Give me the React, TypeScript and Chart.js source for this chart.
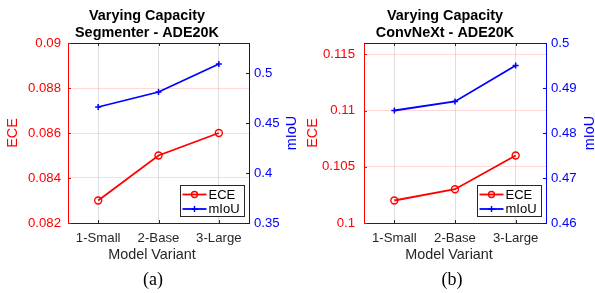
import React, { useEffect, useRef } from 'react';
import { Chart, registerables } from 'chart.js';
Chart.register(...registerables);

const categories = ['1-Small', '2-Base', '3-Large'];
const segEce = [0.083, 0.085, 0.086];
const segMiou = [0.466, 0.481, 0.509];
const convEce = [0.102, 0.103, 0.106];
const convMiou = [0.485, 0.487, 0.495];
const segEceTicks = [0.082, 0.084, 0.086, 0.088, 0.09];
const segMiouTicks = [0.35, 0.4, 0.45, 0.5];
const convEceTicks = [0.1, 0.105, 0.11, 0.115];
const convMiouTicks = [0.46, 0.47, 0.48, 0.49, 0.5];
const segEceRange = [0.082, 0.09];
const segMiouRange = [0.35, 0.53];
const convEceRange = [0.1, 0.116];
const convMiouRange = [0.46, 0.5];
const segTitle = ['Varying Capacity', 'Segmenter - ADE20K'];
const convTitle = ['Varying Capacity', 'ConvNeXt - ADE20K'];
const seriesNames = ['ECE', 'mIoU'];
const xTitle = 'Model Variant';
const captions = ['(a)', '(b)'];

const RED = '#ff0000';
const BLUE = '#0000ff';
const DARK = '#262626';
const SANS = '"Liberation Sans", Arial, sans-serif';
const SERIF = '"Liberation Serif", "Times New Roman", serif';

const fmt = (v: number) => String(Number(Number(v).toFixed(6)));

type Panel = {
  left: number; width: number; leftAxisW: number; rightAxisW: number;
  leftPad: number; rightPad: number;
  titleX: number; captionX: number; yLeftX: number; yRightX: number; xLabelX: number;
};

function decor(p: Panel, title: string[], caption: string) {
  return {
    id: 'decor' + caption,
    afterDraw(chart: any) {
      const ctx = chart.ctx as CanvasRenderingContext2D;
      const a = chart.chartArea;
      const xs = chart.scales.x;
      const y = chart.scales.y;
      const y1 = chart.scales.y1;
      ctx.save();
      // top border
      ctx.strokeStyle = DARK;
      ctx.lineWidth = 1;
      ctx.beginPath();
      ctx.moveTo(a.left, a.top + 0.5);
      ctx.lineTo(a.right, a.top + 0.5);
      ctx.stroke();
      // inward ticks
      const TL = 3;
      ctx.beginPath();
      xs.ticks.forEach((_t: any, i: number) => {
        const px = Math.round(xs.getPixelForTick(i)) + 0.5;
        ctx.moveTo(px, a.bottom); ctx.lineTo(px, a.bottom - TL);
        ctx.moveTo(px, a.top); ctx.lineTo(px, a.top + TL);
      });
      ctx.stroke();
      ctx.strokeStyle = RED;
      ctx.beginPath();
      y.ticks.forEach((t: any) => {
        const py = Math.round(y.getPixelForValue(t.value)) + 0.5;
        ctx.moveTo(a.left, py); ctx.lineTo(a.left + TL, py);
      });
      ctx.stroke();
      ctx.strokeStyle = BLUE;
      ctx.beginPath();
      y1.ticks.forEach((t: any) => {
        const py = Math.round(y1.getPixelForValue(t.value)) + 0.5;
        ctx.moveTo(a.right, py); ctx.lineTo(a.right - TL, py);
      });
      ctx.stroke();

      // titles
      ctx.fillStyle = '#000';
      ctx.textAlign = 'center';
      ctx.textBaseline = 'alphabetic';
      ctx.font = 'bold 14.4px ' + SANS;
      ctx.fillText(title[0], p.titleX, 19.5);
      ctx.fillText(title[1], p.titleX, 37);
      // x title
      ctx.font = '14.4px ' + SANS;
      ctx.fillStyle = DARK;
      ctx.fillText(xTitle, p.xLabelX, 259);
      // caption
      ctx.fillStyle = '#000';
      ctx.font = '18px ' + SERIF;
      ctx.fillText(caption, p.captionX, 285);
      // y titles
      const cy = (a.top + a.bottom) / 2;
      ctx.font = '14.4px ' + SANS;
      ctx.textBaseline = 'middle';
      ctx.save();
      ctx.translate(p.yLeftX, cy);
      ctx.rotate(-Math.PI / 2);
      ctx.fillStyle = RED;
      ctx.fillText(seriesNames[0], 0, 0);
      ctx.restore();
      ctx.save();
      ctx.translate(p.yRightX, cy);
      ctx.rotate(-Math.PI / 2);
      ctx.fillStyle = BLUE;
      ctx.fillText(seriesNames[1], 0, 0);
      ctx.restore();

      // legend
      const bw = 64, bh = 31;
      const bx = Math.round(a.right - 5 - bw) + 0.5;
      const by = Math.round(a.bottom - 7 - bh) + 0.5;
      ctx.fillStyle = '#fff';
      ctx.fillRect(bx, by, bw, bh);
      ctx.strokeStyle = DARK;
      ctx.lineWidth = 1;
      ctx.strokeRect(bx, by, bw, bh);
      const rows = [by + 9, by + 23.5];
      const colors = [RED, BLUE];
      rows.forEach((ry, i) => {
        ctx.strokeStyle = colors[i];
        ctx.lineWidth = 1.8;
        ctx.beginPath();
        ctx.moveTo(bx + 2, ry); ctx.lineTo(bx + 26, ry);
        ctx.stroke();
        ctx.lineWidth = 1.4;
        ctx.beginPath();
        if (i === 0) {
          ctx.arc(bx + 14, ry, 3, 0, Math.PI * 2);
        } else {
          ctx.moveTo(bx + 11, ry); ctx.lineTo(bx + 17, ry);
          ctx.moveTo(bx + 14, ry - 3); ctx.lineTo(bx + 14, ry + 3);
        }
        ctx.stroke();
        ctx.fillStyle = '#000';
        ctx.font = '13px ' + SANS;
        ctx.textAlign = 'left';
        ctx.textBaseline = 'middle';
        ctx.fillText(seriesNames[i], bx + 28, ry + 0.5);
      });
      ctx.restore();
    },
  };
}

function makeConfig(p: Panel, ece: number[], miou: number[], eceRange: number[], miouRange: number[],
  eceTicks: number[], miouTicks: number[], title: string[], caption: string): any {
  const tickFont = { family: SANS, size: 13.2 };
  return {
    type: 'line',
    data: {
      labels: categories,
      datasets: [
        {
          label: seriesNames[0], data: ece, yAxisID: 'y', borderColor: RED, borderWidth: 1.8,
          pointStyle: 'circle', pointRadius: 3.5, pointBorderWidth: 1.4,
          pointBackgroundColor: 'rgba(255,255,255,0)', pointBorderColor: RED, tension: 0, fill: false,
        },
        {
          label: seriesNames[1], data: miou, yAxisID: 'y1', borderColor: BLUE, borderWidth: 1.8,
          pointStyle: 'cross', pointRadius: 3, pointBorderWidth: 1.5,
          pointBackgroundColor: BLUE, pointBorderColor: BLUE, tension: 0, fill: false,
        },
      ],
    },
    options: {
      responsive: false,
      animation: false,
      layout: { padding: { top: 43, left: 0, right: 0, bottom: 0 } },
      plugins: { legend: { display: false }, tooltip: { enabled: false }, title: { display: false } },
      scales: {
        x: {
          type: 'category', offset: true,
          grid: { color: 'rgba(38,38,38,0.15)', drawTicks: false, lineWidth: 1 },
          border: { color: DARK, width: 1 },
          ticks: { color: DARK, font: tickFont, padding: 7, maxRotation: 0, autoSkip: false },
          afterFit: (s: any) => { s.height = 70; },
        },
        y: {
          position: 'left', min: eceRange[0], max: eceRange[1],
          afterBuildTicks: (s: any) => { s.ticks = eceTicks.map((v) => ({ value: v })); },
          ticks: { color: RED, font: tickFont, padding: p.leftPad, callback: (v: any) => fmt(v) },
          grid: { color: 'rgba(255,0,0,0.15)', drawTicks: false, lineWidth: 1 },
          border: { color: RED, width: 1 },
          afterFit: (s: any) => { s.width = p.leftAxisW; },
        },
        y1: {
          position: 'right', min: miouRange[0], max: miouRange[1],
          afterBuildTicks: (s: any) => { s.ticks = miouTicks.map((v) => ({ value: v })); },
          ticks: { color: BLUE, font: tickFont, padding: p.rightPad, callback: (v: any) => fmt(v) },
          grid: { drawOnChartArea: false, drawTicks: false },
          border: { color: BLUE, width: 1 },
          afterFit: (s: any) => { s.width = p.rightAxisW; },
        },
      },
    },
    plugins: [decor(p, title, caption)],
  };
}

const panelA: Panel = {
  left: 0, width: 297, leftAxisW: 68, rightAxisW: 48, leftPad: 7, rightPad: 5,
  titleX: 147, captionX: 153, yLeftX: 13, yRightX: 292, xLabelX: 152,
};
const panelB: Panel = {
  left: 297, width: 298, leftAxisW: 67, rightAxisW: 49, leftPad: 9, rightPad: 5,
  titleX: 148, captionX: 155, yLeftX: 16, yRightX: 293, xLabelX: 152,
};

function ChartPanel({ p, cfg }: { p: Panel; cfg: () => any }) {
  const ref = useRef<HTMLCanvasElement>(null);
  useEffect(() => {
    if (!ref.current) return;
    const c = new Chart(ref.current, cfg());
    return () => c.destroy();
  }, []);
  return (
    <canvas ref={ref} width={p.width} height={293}
      style={{ position: 'absolute', left: p.left, top: 0, width: p.width, height: 293 }} />
  );
}

export default function App() {
  return (
    <div style={{ position: 'absolute', left: 0, top: 0, width: 595, height: 293, background: '#fff' }}>
      <ChartPanel p={panelA} cfg={() => makeConfig(panelA, segEce, segMiou, segEceRange, segMiouRange, segEceTicks, segMiouTicks, segTitle, captions[0])} />
      <ChartPanel p={panelB} cfg={() => makeConfig(panelB, convEce, convMiou, convEceRange, convMiouRange, convEceTicks, convMiouTicks, convTitle, captions[1])} />
    </div>
  );
}
